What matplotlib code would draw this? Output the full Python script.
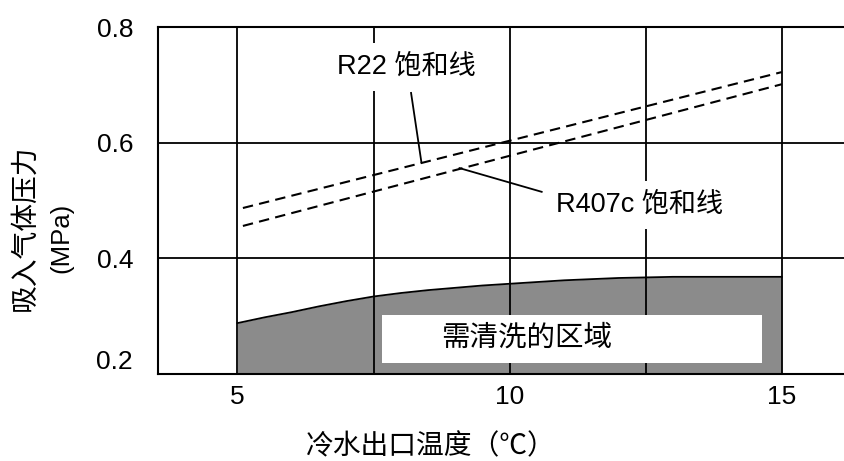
import matplotlib
matplotlib.use("Agg")
import matplotlib.pyplot as plt
from matplotlib.patches import Rectangle

plt.rcParams['font.family'] = ['Liberation Sans', 'Noto Sans CJK SC', 'DejaVu Sans']

# data
temp = [5, 5.5, 6, 6.5, 7, 7.5, 8, 8.5, 9, 9.5, 10, 11, 12, 13, 14, 15]
clean_limit = [0.288, 0.298, 0.307, 0.317, 0.326, 0.334, 0.340, 0.345,
               0.349, 0.353, 0.356, 0.362, 0.366, 0.368, 0.368, 0.368]

sat_temp = [5.1, 15]
r22_sat = [0.487, 0.722]
r407c_sat = [0.456, 0.701]

x_grid = [5, 7.5, 10, 12.5, 15]
y_grid = [0.4, 0.6]
x_ticks = [5, 10, 15]
y_ticks = [0.2, 0.4, 0.6, 0.8]

fig = plt.figure(figsize=(8.44, 4.61), dpi=100)
ax = fig.add_axes([158 / 844, 1 - 374 / 461, 1 - 158 / 844 + 0.01, 347 / 461])
ax.set_xlim(3.54, 16.3)
ax.set_ylim(0.2, 0.8)

ax.fill_between(temp, 0.2, clean_limit, color='#8b8b8b', lw=0, zorder=1)
ax.plot(temp, clean_limit, color='black', lw=1.3, zorder=3)

for x in x_grid:
    ax.axvline(x, color='black', lw=1.3, zorder=2)
for y in y_grid:
    ax.axhline(y, color='black', lw=1.3, zorder=2)

ax.add_patch(Rectangle((7.66, 0.219), 6.97, 0.083, facecolor='white', edgecolor='none', zorder=4))
ax.text(8.75, 0.263, '需清洗的区域', fontsize=20.5, va='center', ha='left',
        family=['Noto Sans CJK SC'], zorder=5)

ax.plot(sat_temp, r22_sat, color='black', lw=1.5, ls=(0, (5, 3)), zorder=3)
ax.plot(sat_temp, r407c_sat, color='black', lw=1.5, ls=(0, (5, 3)), zorder=3)

# leader lines
ax.plot([8.19, 8.38], [0.686, 0.566], color='black', lw=1.3, zorder=3)
ax.plot([9.08, 10.59], [0.556, 0.515], color='black', lw=1.3, zorder=3)

box = dict(facecolor='white', edgecolor='none', pad=0.4, boxstyle='square')
ax.text(8.1, 0.731, 'R22 饱和线', fontsize=19.5, ha='center', va='center', bbox=box, zorder=6)
ax.text(12.38, 0.492, 'R407c 饱和线', fontsize=19.5, ha='center', va='center', bbox=box, zorder=6)

for s in ['left', 'top', 'bottom']:
    ax.spines[s].set_linewidth(1.5)
    ax.spines[s].set_zorder(7)
ax.spines['right'].set_visible(False)

ax.set_xticks(x_ticks)
ax.set_xticklabels([str(v) for v in x_ticks])
ax.set_yticks(y_ticks)
ax.set_yticklabels(['%.1f' % v for v in y_ticks])
ax.tick_params(axis='both', length=0, labelsize=19)
ax.tick_params(axis='x', pad=8)
ax.tick_params(axis='y', pad=18)
ax.get_yticklabels()[0].set_va('bottom')

fig.text(25 / 844, 1 - 228 / 461, '吸入气体压力', rotation=90, fontsize=20,
         ha='center', va='center', family=['Noto Sans CJK SC'])
fig.text(61 / 844, 1 - 238 / 461, '(MPa)', rotation=90, fontsize=18.5,
         ha='center', va='center')
fig.text(431 / 844, 1 - 446 / 461, '冷水出口温度（℃）', fontsize=20,
         ha='center', va='center', family=['Noto Sans CJK SC', 'DejaVu Sans'])

fig.savefig('out.png', dpi=100)
